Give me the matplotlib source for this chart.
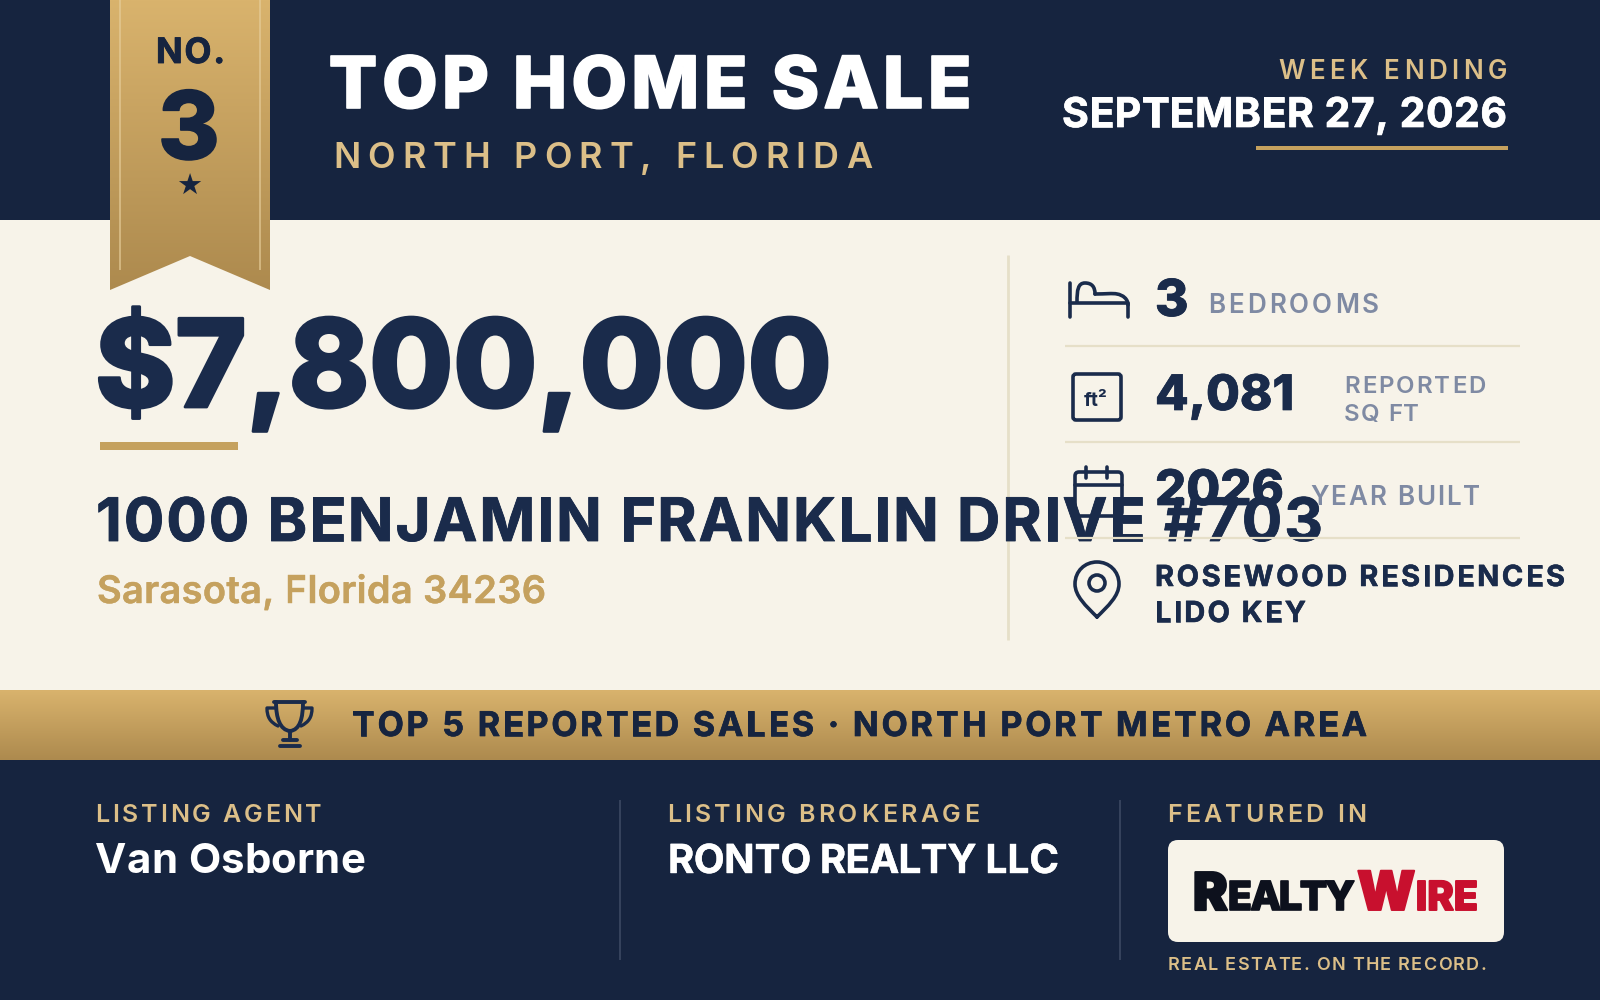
import numpy as np
import matplotlib
matplotlib.use("Agg")
import matplotlib.pyplot as plt
from matplotlib.patches import FancyBboxPatch, PathPatch, Polygon, Circle, Rectangle
from matplotlib.path import Path
from matplotlib.text import Text
import matplotlib.patheffects as pe

# card content
RANK = "3"
CITY = "NORTH PORT, FLORIDA"
WEEK = "SEPTEMBER 27, 2026"
PRICE = "$7,800,000"
ADDRESS = "1000 BENJAMIN FRANKLIN DRIVE #703"
LOCALITY = "Sarasota, Florida 34236"
BEDROOMS = "3"
SQFT = "4,081"
YEAR_BUILT = "2026"
COMMUNITY = ["ROSEWOOD RESIDENCES", "LIDO KEY"]
AGENT = "Van Osborne"
BROKERAGE = "RONTO REALTY LLC"

NAVY = "#16243f"
INK = "#1a2b4b"
CREAM = "#f7f3e9"
GOLD = "#c5a15e"
PALE_GOLD = "#dcbf88"
SLATE = "#7f8aa3"
RULE = "#e6dfc8"
FONT = "Inter"


class FitText(Text):
    # draws letter by letter so the string can be tracked out to a given width
    def __init__(self, *args, fit_width=None, **kwargs):
        super().__init__(*args, **kwargs)
        self.fit_width = fit_width

    def draw(self, renderer):
        full = self.get_text()
        x0 = self.get_position()[0]
        fp = self.get_fontproperties()
        sx = self.get_transform().transform((1, 0))[0] - self.get_transform().transform((0, 0))[0]
        natural = renderer.get_text_width_height_descent(full, fp, False)[0] / sx
        step = (self.fit_width - natural) / max(len(full) - 1, 1)
        for i, ch in enumerate(full):
            w = renderer.get_text_width_height_descent(full[:i], fp, False)[0] / sx if i else 0
            self.set_text(ch)
            self.set_x(x0 + w + i * step)
            super().draw(renderer)
        self.set_text(full)
        self.set_x(x0)


fig = plt.figure(figsize=(16, 10), dpi=100)
ax = fig.add_axes([0, 0, 1, 1])
ax.set_xlim(0, 1600)
ax.set_ylim(1000, 0)
ax.axis("off")


def label(x0, x1, base, s, px, weight=700, color=INK, z=5, fat=0):
    t = FitText(x0, base, s, fit_width=x1 - x0, fontsize=px * 0.72, fontweight=weight,
                family=FONT, color=color, va="baseline", ha="left", zorder=z)
    if fat:
        t.set_path_effects([pe.withStroke(linewidth=fat, foreground=color)])
    ax.add_artist(t)
    return t


def gold_gradient(x0, x1, y0, y1, clip=None, z=2):
    grad = np.linspace(0, 1, 256).reshape(-1, 1, 1)
    top = np.array([0xd9, 0xb3, 0x6d]) / 255
    bot = np.array([0xad, 0x8a, 0x4e]) / 255
    im = ax.imshow(top + grad * (bot - top), extent=(x0, x1, y1, y0), aspect="auto", zorder=z)
    if clip is not None:
        im.set_clip_path(clip)
    return im


def stroke(points, lw=2.6, z=6, color=INK, curved=False):
    if curved:
        path = Path(points, [Path.MOVETO] + [Path.CURVE4] * (len(points) - 1))
    else:
        path = Path(points)
    ax.add_patch(PathPatch(path, fill=False, ec=color, lw=lw, capstyle="round", joinstyle="round", zorder=z))


# backgrounds
ax.add_patch(Rectangle((0, 0), 1600, 1000, fc=CREAM, ec="none", zorder=0))
ax.add_patch(Rectangle((0, 0), 1600, 220, fc=NAVY, ec="none", zorder=1))
ax.add_patch(Rectangle((0, 760), 1600, 240, fc=NAVY, ec="none", zorder=1))
gold_gradient(0, 1600, 690, 760)

# ribbon
ribbon = Polygon([(110, 0), (270, 0), (270, 290), (190, 256), (110, 290)], closed=True,
                 fc="none", ec="none", zorder=2)
ax.add_patch(ribbon)
gold_gradient(110, 270, 0, 290, clip=ribbon, z=3)
for x in (120, 260):
    ax.plot([x, x], [0, 270], color="#e6cd9a", lw=1.3, alpha=0.7, zorder=4, solid_capstyle="butt")
label(156, 225, 63, "NO.", 35, 700, NAVY, fat=0.6)
label(158, 216, 159, RANK, 94, 800, NAVY, fat=1.2)
ax.text(189, 187, "★", fontsize=21, family="DejaVu Sans", color=NAVY, ha="center", va="center", zorder=5)

# header
label(329, 972, 108, "TOP HOME SALE", 72, 800, "white", fat=1.2)
label(333, 872, 168, CITY, 36, 600, PALE_GOLD)
label(1278, 1507, 79, "WEEK ENDING", 26, 600, PALE_GOLD)
label(1062, 1507, 127, WEEK, 41, 700, "white", fat=0.5)
ax.add_patch(Rectangle((1256, 146), 252, 4, fc=GOLD, ec="none", zorder=5))

# price block
label(95, 832, 407, PRICE, 122, 800, INK, fat=2)
ax.add_patch(Rectangle((100, 442), 138, 8, fc=GOLD, ec="none", zorder=5))
label(96, 1323, 541, ADDRESS, 60, 700, INK, z=5, fat=0.6)
label(97, 546, 603, LOCALITY, 38, 600, GOLD, fat=0.3)

# stats panel
ax.plot([1008, 1008], [255, 640], color=RULE, lw=2, zorder=4, solid_capstyle="butt")
for y in (346, 442, 538):
    ax.plot([1065, 1520], [y, y], color=RULE, lw=1.6, zorder=6, solid_capstyle="butt")

label(1155, 1184, 316, BEDROOMS, 51, 800, INK, fat=0.6)
label(1208, 1379, 313, "BEDROOMS", 26, 600, SLATE)
label(1155, 1294, 410, SQFT, 49, 800, INK, fat=0.5)
label(1344, 1486, 393, "REPORTED", 24, 600, SLATE)
label(1344, 1419, 421, "SQ FT", 24, 600, SLATE)
label(1155, 1284, 505, YEAR_BUILT, 49, 800, INK, z=5, fat=0.5)
label(1310, 1480, 505, "YEAR BUILT", 26, 600, SLATE)
label(1155, 1565, 586, COMMUNITY[0], 29, 700, INK, fat=0.4)
label(1155, 1306, 622, COMMUNITY[1], 29, 700, INK, fat=0.4)

# bed icon
stroke([(1070, 283), (1070, 317)], z=4)
stroke([(1070, 303), (1128, 303)], z=4)
stroke([(1128, 317), (1128, 304)], z=4)
stroke([(1077, 302), (1077, 290), (1078, 283), (1085, 283), (1092, 283), (1095, 287), (1095, 294)], curved=True, z=4)
stroke([(1095, 294), (1105, 294), (1113, 293), (1117, 294), (1123, 295), (1128, 299), (1128, 305)], curved=True, z=4)

# sq ft box
ax.add_patch(FancyBboxPatch((1073, 374), 48, 46, boxstyle="round,pad=0,rounding_size=3", fc="none", ec=INK, lw=2.6, zorder=4))
ax.text(1096, 406, "ft²", fontsize=14, fontweight=700, family=FONT, color=INK, ha="center", va="baseline", zorder=5)

# calendar
ax.add_patch(FancyBboxPatch((1075, 472), 47, 44, boxstyle="round,pad=0,rounding_size=4", fc="none", ec=INK, lw=2.6, zorder=4))
stroke([(1075, 485), (1122, 485)], z=4)
stroke([(1086, 467), (1086, 478)], z=4)
stroke([(1107, 467), (1107, 478)], z=4)

# pin
stroke([(1097, 617), (1086, 606), (1075, 596), (1075, 584), (1075, 571), (1085, 562), (1097, 562),
        (1109, 562), (1119, 571), (1119, 584), (1119, 596), (1108, 606), (1097, 617)], curved=True, z=6)
ax.add_patch(Circle((1097, 583), 8, fc="none", ec=INK, lw=2.6, zorder=6))

# trophy
stroke([(274, 702), (305, 702)], lw=2.8)
stroke([(276, 702), (276, 718), (280, 730), (290, 731), (300, 730), (303, 718), (303, 702)], curved=True, lw=2.8)
stroke([(275, 708), (267, 708), (267, 708), (267, 708), (267, 717), (270, 722), (278, 726)], curved=True, lw=2.4)
stroke([(304, 708), (312, 708), (312, 708), (312, 708), (312, 717), (309, 722), (301, 726)], curved=True, lw=2.4)
stroke([(290, 731), (290, 740)], lw=2.8)
stroke([(283, 740), (297, 740)], lw=2.8)
stroke([(280, 746), (300, 746)], lw=2.8)
label(352, 1367, 736, "TOP 5 REPORTED SALES · NORTH PORT METRO AREA", 34, 700, NAVY, fat=0.5)

# footer
for x in (620, 1120):
    ax.plot([x, x], [800, 960], color="#3f4c66", lw=1.1, zorder=3, solid_capstyle="butt")
label(95, 322, 822, "LISTING AGENT", 25, 600, PALE_GOLD)
label(95, 365, 873, AGENT, 42, 700, "white")
label(667, 979, 822, "LISTING BROKERAGE", 25, 600, PALE_GOLD)
label(668, 1059, 873, BROKERAGE, 40, 700, "white", fat=0.3)
label(1167, 1366, 822, "FEATURED IN", 25, 600, PALE_GOLD)
ax.add_patch(FancyBboxPatch((1168, 840), 336, 102, boxstyle="round,pad=0,rounding_size=10", fc=CREAM, ec="none", zorder=4))

# masthead logo
LOGO_DARK = "#0d111d"
LOGO_RED = "#c8102e"
label(1193, 1224, 910, "R", 52, 900, LOGO_DARK, fat=1.6)
label(1228, 1355, 910, "EALTY", 40, 800, LOGO_DARK, fat=1.2)
label(1357, 1413, 910, "W", 54, 900, LOGO_RED, fat=1.4)
label(1416, 1478, 910, "IRE", 40, 800, LOGO_RED, fat=1.4)
label(1168, 1486, 970, "REAL ESTATE. ON THE RECORD.", 18, 600, PALE_GOLD)

fig.savefig("out.png", dpi=100)
